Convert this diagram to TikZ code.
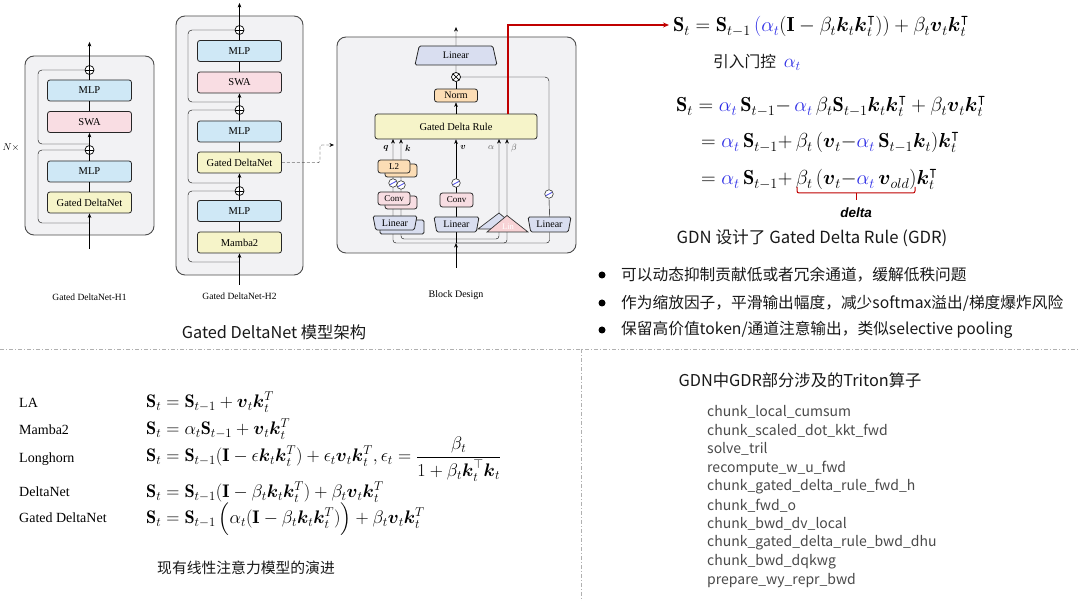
\RequirePackage{fix-cm}
\documentclass[tikz,border=0pt]{standalone}
\usepackage{amsmath,amssymb}
\usepackage{fontspec}
\newfontfamily\cjk{Noto Sans CJK SC}
\newfontfamily\tms{Liberation Serif}
\newfontfamily\ars{Liberation Sans}
\usetikzlibrary{arrows.meta,shapes.geometric}
\pgfdeclarelayer{bg}\pgfdeclarelayer{mid}\pgfsetlayers{bg,mid,main}
\definecolor{mlpblue}{HTML}{CFE8F6}
\definecolor{swapink}{HTML}{F9DDE3}
\definecolor{gdnyel}{HTML}{F6F4C9}
\definecolor{panelgray}{HTML}{F2F2F4}
\definecolor{linlav}{HTML}{D9DEF0}
\definecolor{normpeach}{HTML}{FCDDB5}
\definecolor{convpink}{HTML}{F8DDE2}
\definecolor{linpink}{HTML}{F8D3D6}
\definecolor{alphablue}{HTML}{2F2FE6}
\definecolor{darkred}{HTML}{C00000}
\definecolor{sepgray}{HTML}{B0B0B0}
\definecolor{listgray}{HTML}{4A4A4A}
\tikzset{
 panel/.style={draw=black!70, fill=panelgray, rounded corners=9pt, line width=0.9pt, inner sep=0pt},
 blk/.style={draw=black!85, rounded corners=2.5pt, line width=0.8pt, inner sep=0pt, font=\tms\fontsize{10.5}{12}\selectfont},
 mlpbox/.style={blk, fill=mlpblue, minimum width=84pt, minimum height=21pt},
 swabox/.style={blk, fill=swapink, minimum width=84pt, minimum height=21pt},
 gdnbox/.style={blk, fill=gdnyel, minimum width=84pt, minimum height=21pt},
 plusc/.style={circle, draw=black, fill=white, minimum size=9pt, inner sep=0pt, line width=0.7pt,
   path picture={\draw[line width=0.7pt] (path picture bounding box.north) -- (path picture bounding box.south) (path picture bounding box.west) -- (path picture bounding box.east);}},
 timesc/.style={circle, draw=black, fill=white, minimum size=9pt, inner sep=0pt, line width=0.7pt,
   path picture={\draw[line width=0.7pt] (path picture bounding box.north west) -- (path picture bounding box.south east) (path picture bounding box.south west) -- (path picture bounding box.north east);}},
 silu/.style={circle, draw=black!80, fill=white, minimum size=8.5pt, inner sep=0pt, line width=0.6pt,
   path picture={\draw[alphablue!85, line width=0.8pt] ([shift={(-3pt,-1.6pt)}]path picture bounding box.center) .. controls ([shift={(0.5pt,-1.8pt)}]path picture bounding box.center) and ([shift={(-0.5pt,1.8pt)}]path picture bounding box.center) .. ([shift={(3pt,1.6pt)}]path picture bounding box.center);}},
 arr/.style={-{Stealth[length=4.5pt,width=3.6pt]}},
 trapz/.style={trapezium, trapezium stretches body, draw=black!85, fill=linlav, line width=0.8pt, inner sep=0pt, rounded corners=1.5pt, font=\tms\fontsize{10}{12}\selectfont},
 invtrapz/.style={trapz, shape border rotate=180, trapezium left angle=68, trapezium right angle=68, minimum width=44pt, minimum height=15pt},
 smallbox/.style={blk, minimum width=32pt, minimum height=13pt, font=\tms\fontsize{9}{11}\selectfont},
 capt/.style={font=\tms\fontsize{9.5}{11}\selectfont},
 cn/.style={font=\cjk\fontsize{15.7}{18}\selectfont, text=black!90, inner sep=0pt},
 eqr/.style={font=\fontsize{20.3}{24}\selectfont, anchor=base west, inner sep=0pt},
 eql/.style={font=\fontsize{18.2}{22}\selectfont, anchor=base west, inner sep=0pt},
 lbl/.style={font=\tms\fontsize{14}{16}\selectfont, anchor=base west, inner sep=0pt},
 kern/.style={font=\cjk\fontsize{14}{16}\selectfont, text=listgray, anchor=west, inner sep=0pt},
 sepline/.style={draw=sepgray, line width=0.7pt, dash pattern=on 4pt off 2pt on 1pt off 2pt},
 bullet/.style={circle, fill=black, inner sep=0pt, minimum size=7pt},
}
\begin{document}
\begin{tikzpicture}[x=1pt,y=-1pt,line width=0.8pt]
\useasboundingbox (0,0) rectangle (1080,601);

% ================= background and panels =================
\begin{pgfonlayer}{bg}
\fill[white] (0,0) rectangle (1080,601);
\node[panel, minimum width=129pt, minimum height=179pt] (h1) at (89.5,145.5) {};
\node[panel, minimum width=127pt, minimum height=259pt] (h2) at (239.5,145.5) {};
\node[panel, minimum width=239pt, minimum height=216pt] (bd) at (456.5,145) {};
\end{pgfonlayer}

% ================= H1 =================
\node[mlpbox] (h1m1) at (89.5,90.5) {MLP};
\node[swabox] (h1s) at (89.5,122) {SWA};
\node[mlpbox] (h1m2) at (89.5,171.5) {MLP};
\node[gdnbox] (h1g) at (89.5,202.5) {Gated DeltaNet};
\node[plusc] (h1p1) at (89.5,70) {};
\node[plusc] (h1p2) at (89.5,150) {};
\coordinate (h1out) at (89.5,42);
\coordinate (h1in) at (89.5,249);
\coordinate (h1r1) at (89.5,144);
\coordinate (h1r2) at (89.5,223);
\draw[arr] (h1p1.north) -- (h1out);
\draw (h1m1.north) -- (h1p1.south);
\draw (h1s.north) -- (h1m1.south);
\draw[arr] (h1p2.north) -- (h1s.south);
\draw (h1m2.north) -- (h1p2.south);
\draw (h1g.north) -- (h1m2.south);
\draw[arr] (h1in) -- (h1g.south);
\draw[rounded corners=4pt] (h1r1) -| (38,70) -- (h1p1.west);
\draw[rounded corners=4pt] (h1r2) -| (38,150) -- (h1p2.west);
\node[font=\fontsize{10}{12}\selectfont] (nx) at (11,148) {$N\times$};
\node[capt] (h1c) at (89.5,297) {Gated DeltaNet-H1};

% ================= H2 =================
\node[mlpbox] (h2m1) at (239.5,51) {MLP};
\node[swabox] (h2s) at (239.5,82.5) {SWA};
\node[mlpbox] (h2m2) at (239.5,131.5) {MLP};
\node[gdnbox] (h2g) at (239.5,162.5) {Gated DeltaNet};
\node[mlpbox] (h2m3) at (239.5,211) {MLP};
\node[gdnbox] (h2mb) at (239.5,242.5) {Mamba2};
\node[plusc] (h2p1) at (239.5,30) {};
\node[plusc] (h2p2) at (239.5,110) {};
\node[plusc] (h2p3) at (239.5,191) {};
\coordinate (h2out) at (239.5,3);
\coordinate (h2in) at (239.5,285);
\coordinate (h2r1) at (239.5,102);
\coordinate (h2r2) at (239.5,183);
\coordinate (h2r3) at (239.5,262);
\draw[arr] (h2p1.north) -- (h2out);
\draw (h2m1.north) -- (h2p1.south);
\draw (h2s.north) -- (h2m1.south);
\draw[arr] (h2p2.north) -- (h2s.south);
\draw (h2m2.north) -- (h2p2.south);
\draw (h2g.north) -- (h2m2.south);
\draw[arr] (h2p3.north) -- (h2g.south);
\draw (h2m3.north) -- (h2p3.south);
\draw (h2mb.north) -- (h2m3.south);
\draw[arr] (h2in) -- (h2mb.south);
\draw[rounded corners=4pt] (h2r1) -| (188,30) -- (h2p1.west);
\draw[rounded corners=4pt] (h2r2) -| (188,110) -- (h2p2.west);
\draw[rounded corners=4pt] (h2r3) -| (188,191) -- (h2p3.west);
\node[capt] (h2c) at (239.5,296) {Gated DeltaNet-H2};
\coordinate (dashend) at (334,145);
\draw[arr, dash pattern=on 3pt off 2pt, rounded corners=2pt] (h2g.east) -- (320,162.5) -- (320,145) -- (dashend);

% ================= Block design =================
\node[trapz, trapezium left angle=58, trapezium right angle=58, minimum width=82pt, minimum height=19pt] (bdlin) at (456,55.5) {Linear};
\node[timesc] (bdmul) at (456,77) {};
\node[blk, fill=normpeach, minimum width=43pt, minimum height=13pt, font=\tms\fontsize{10}{12}\selectfont] (bdnorm) at (456,95.5) {Norm};
\node[blk, fill=gdnyel, minimum width=162pt, minimum height=25pt] (bdgdr) at (456,126.5) {Gated Delta Rule};

\node[smallbox, fill=normpeach] (l2b) at (401,170.5) {};
\node[smallbox, fill=normpeach] (l2) at (394,166.5) {L2};
\node[silu] (sq) at (393,183) {};
\node[silu] (sk) at (401,185) {};
\node[smallbox, fill=convpink] (cvb) at (401,202.5) {};
\node[smallbox, fill=convpink] (cv) at (394,198.5) {Conv};
\node[invtrapz, minimum height=14pt] (lnb) at (402,227) {};
\node[invtrapz, minimum height=14pt] (ln) at (395,223) {Linear};

\node[silu] (sv) at (456,183) {};
\node[smallbox, fill=convpink, minimum width=33pt, minimum height=14pt] (cvv) at (456.5,200) {Conv};
\node[invtrapz, minimum width=45pt] (lnv) at (456.5,224.5) {Linear};

\node[silu] (rsilu) at (549,194) {};
\node[invtrapz, minimum width=43pt] (rlin) at (549.5,224.5) {Linear};

\filldraw[fill=linlav, draw=black!80, line width=0.7pt] (499,213) -- (518,229) -- (478,229) -- cycle;
\filldraw[fill=linpink, draw=black!80, line width=0.7pt] (507,215.5) -- (528,232) -- (487,232) -- cycle;
\node[text=white, font=\tms\fontsize{8.5}{10}\selectfont] (lintxt) at (508,227) {Lin};

\coordinate (bj) at (456,243);
\coordinate (bj2) at (456,239);
\coordinate (bin) at (456,268);
\coordinate (bdout) at (456,27);
\coordinate (qx) at (393,139);
\coordinate (kx) at (401,139);
\coordinate (ax) at (499,139);
\coordinate (bx) at (507,139);
\begin{pgfonlayer}{mid}
\draw[arr, rounded corners=3pt] (bj) -| (qx);
\draw[arr, rounded corners=3pt] (bj2) -| (kx);
\draw[arr] (bj) -- (bdgdr.south);
\draw[arr, rounded corners=3pt] (bj2) -| (ax);
\draw[arr, rounded corners=3pt] (bj) -| (bx);
\draw[rounded corners=3pt] (bj) -| (rlin.south);
\end{pgfonlayer}
\draw[arr] (bin) -- (bj);
\draw (rlin.north) -- (rsilu.south);
\draw[rounded corners=4pt] (rsilu.north) |- (bdmul.east);
\draw[arr] (bdgdr.north) -- (bdnorm.south);
\draw (bdnorm.north) -- (bdmul.south);
\draw (bdmul.north) -- (bdlin.south);
\draw[arr] (bdlin.north) -- (bdout);

\node[font=\fontsize{9}{10}\selectfont] (lq) at (386,148) {$\boldsymbol{q}$};
\node[font=\fontsize{9}{10}\selectfont] (lk) at (408,148) {$\boldsymbol{k}$};
\node[font=\fontsize{9}{10}\selectfont] (lv) at (463,148) {$\boldsymbol{v}$};
\node[font=\fontsize{9}{10}\selectfont, text=black!65] (la) at (491,148) {$\alpha$};
\node[font=\fontsize{9}{10}\selectfont, text=black!65] (lb) at (514,148) {$\beta$};
\node[font=\tms\fontsize{10}{12}\selectfont] (bdc) at (456,295) {Block Design};

\node[cn, font=\cjk\fontsize{16.3}{19}\selectfont] (cap1) at (274,332) {Gated DeltaNet 模型架构};

% ================= Right equations =================
\coordinate (redst) at (508,114);
\coordinate (redend) at (669,25);
\draw[darkred, line width=1.2pt, -{Stealth[length=6pt,width=5pt]}] (redst) |- (redend);

\node[eqr] (eq1) at (673,32) {$\mathbf{S}_t = \mathbf{S}_{t-1}\,{\color{alphablue}(\alpha_t}(\mathbf{I}-\beta_t\boldsymbol{k}_t\boldsymbol{k}_t^{\intercal}))+\beta_t\boldsymbol{v}_t\boldsymbol{k}_t^{\intercal}$};
\node[cn, anchor=west] (intro) at (713,62) {引入门控\hspace{0.5em}{\fontsize{19}{22}\selectfont$\color{alphablue}\alpha_t$}};
\node[eqr] (eq2) at (676,112) {$\mathbf{S}_t = \textcolor{alphablue}{\alpha_t}\,\mathbf{S}_{t-1}{-}\,\textcolor{alphablue}{\alpha_t}\,\beta_t\mathbf{S}_{t-1}\boldsymbol{k}_t\boldsymbol{k}_t^{\intercal}+\beta_t\boldsymbol{v}_t\boldsymbol{k}_t^{\intercal}$};
\node[eqr] (eq3) at (701,148) {$=\textcolor{alphablue}{\alpha_t}\,\mathbf{S}_{t-1}{+}\,\beta_t\,(\boldsymbol{v}_t{-}\textcolor{alphablue}{\alpha_t}\,\mathbf{S}_{t-1}\boldsymbol{k}_t)\boldsymbol{k}_t^{\intercal}$};
\node[eqr] (eq4) at (701,185) {$=\textcolor{alphablue}{\alpha_t}\,\mathbf{S}_{t-1}{+}\,\beta_t\,(\boldsymbol{v}_t{-}\textcolor{alphablue}{\alpha_t}\,\boldsymbol{v}_{old})\boldsymbol{k}_t^{\intercal}$};
\draw[darkred, line width=1pt, rounded corners=2pt] (797,187) -- (797,193) -- (915,193) -- (915,187);
\draw[darkred, line width=1pt] (856,193) -- (856,200);
\node[font=\ars\bfseries\itshape\fontsize{13.5}{16}\selectfont] (delta) at (856,213) {delta};
\node[cn, font=\cjk\fontsize{16.7}{19}\selectfont] (gdr) at (812,238) {GDN 设计了 Gated Delta Rule (GDR)};

\node[bullet] (b1) at (602,275) {};
\node[bullet] (b2) at (602,303) {};
\node[bullet] (b3) at (602,330) {};
\node[cn, anchor=west] (t1) at (621,275) {可以动态抑制贡献低或者冗余通道，缓解低秩问题};
\node[cn, anchor=west] (t2) at (621,303) {作为缩放因子，平滑输出幅度，减少softmax溢出/梯度爆炸风险};
\node[cn, anchor=west] (t3) at (621,330) {保留高价值token/通道注意输出，类似selective pooling};

% separators
\draw[sepline] (0,349) -- (1080,349);
\draw[sepline] (581,349) -- (581,601);

% ================= Bottom-left =================
\node[lbl] (n1) at (19,408) {LA};
\node[lbl] (n2) at (19,435) {Mamba2};
\node[lbl] (n3) at (19,463) {Longhorn};
\node[lbl] (n4) at (19,497) {DeltaNet};
\node[lbl] (n5) at (19,523) {Gated DeltaNet};
\node[eql] (e1) at (146,408) {$\mathbf{S}_t = \mathbf{S}_{t-1} + \boldsymbol{v}_t\boldsymbol{k}_t^T$};
\node[eql] (e2) at (146,435) {$\mathbf{S}_t = \alpha_t\mathbf{S}_{t-1} + \boldsymbol{v}_t\boldsymbol{k}_t^T$};
\node[eql] (e3) at (146,462) {$\mathbf{S}_t = \mathbf{S}_{t-1}(\mathbf{I}-\epsilon\boldsymbol{k}_t\boldsymbol{k}_t^T) + \epsilon_t\boldsymbol{v}_t\boldsymbol{k}_t^T, \epsilon_t = \dfrac{\beta_t}{1+\beta_t\boldsymbol{k}_t^\top\boldsymbol{k}_t}$};
\node[eql] (e4) at (146,498) {$\mathbf{S}_t = \mathbf{S}_{t-1}(\mathbf{I}-\beta_t\boldsymbol{k}_t\boldsymbol{k}_t^T) + \beta_t\boldsymbol{v}_t\boldsymbol{k}_t^T$};
\node[eql] (e5) at (146,524) {$\mathbf{S}_t = \mathbf{S}_{t-1}\,\Big(\alpha_t(\mathbf{I}-\beta_t\boldsymbol{k}_t\boldsymbol{k}_t^T)\Big) + \beta_t\boldsymbol{v}_t\boldsymbol{k}_t^T$};
\node[cn, font=\cjk\fontsize{14.8}{17}\selectfont] (cap2) at (246,568) {现有线性注意力模型的演进};

% ================= Bottom-right =================
\node[cn, font=\cjk\fontsize{16.3}{19}\selectfont] (ttl) at (800,380) {GDN中GDR部分涉及的Triton算子};
\node[kern] (k1) at (707,412) {chunk\_local\_cumsum};
\node[kern] (k2) at (707,430.7) {chunk\_scaled\_dot\_kkt\_fwd};
\node[kern] (k3) at (707,449.4) {solve\_tril};
\node[kern] (k4) at (707,468.1) {recompute\_w\_u\_fwd};
\node[kern] (k5) at (707,486.8) {chunk\_gated\_delta\_rule\_fwd\_h};
\node[kern] (k6) at (707,505.5) {chunk\_fwd\_o};
\node[kern] (k7) at (707,524.2) {chunk\_bwd\_dv\_local};
\node[kern] (k8) at (707,542.9) {chunk\_gated\_delta\_rule\_bwd\_dhu};
\node[kern] (k9) at (707,561.6) {chunk\_bwd\_dqkwg};
\node[kern] (k10) at (707,580.3) {prepare\_wy\_repr\_bwd};
\end{tikzpicture}
\end{document}
